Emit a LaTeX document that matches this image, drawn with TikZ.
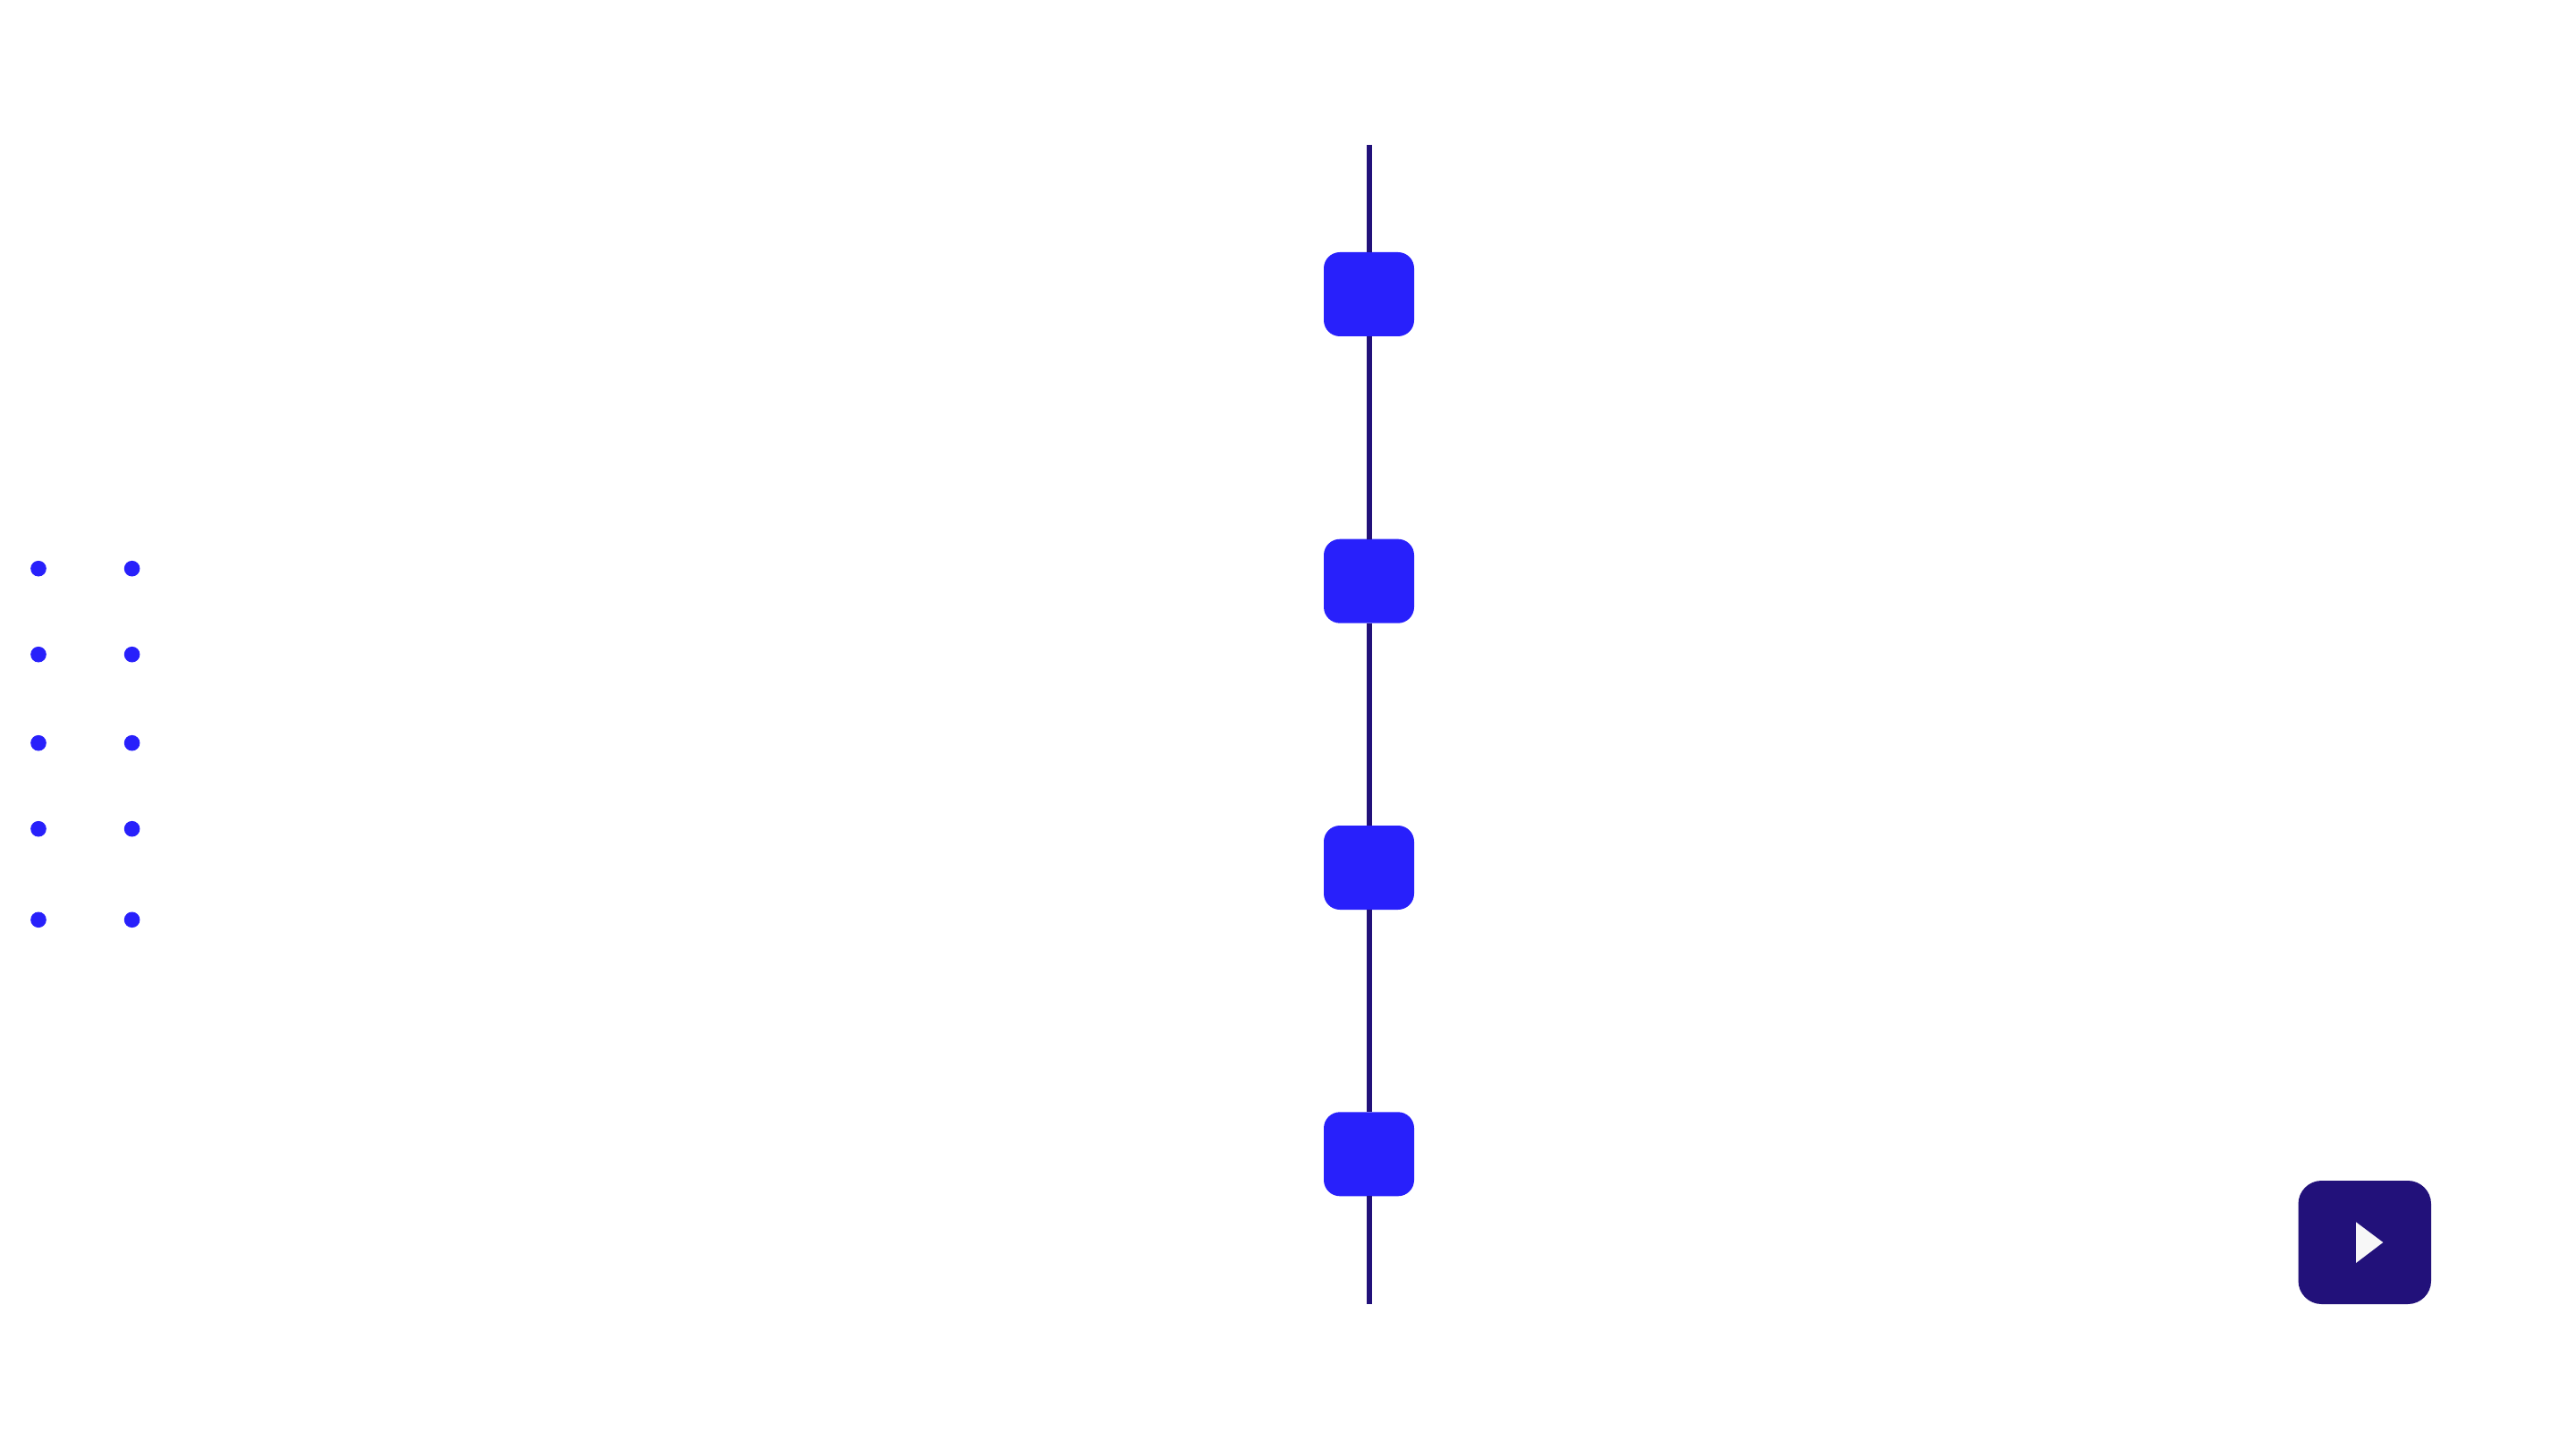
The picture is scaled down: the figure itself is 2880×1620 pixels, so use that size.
\documentclass[tikz,border=0pt]{standalone}
\definecolor{boxblue}{HTML}{2820FB}
\definecolor{navy}{HTML}{22117A}
\definecolor{playwhite}{HTML}{F7F7F7}
\tikzset{
  x=0.5pt,y=-0.5pt,
  stopbox/.style={fill=boxblue,draw=none,rounded corners=9pt,minimum width=50.5pt,minimum height=47pt,inner sep=0pt,outer sep=0pt,shape=rectangle},
  playbox/.style={fill=navy,draw=none,rounded corners=13pt,minimum width=74.25pt,minimum height=69pt,inner sep=0pt,outer sep=0pt,shape=rectangle},
  dot/.style={fill=boxblue,draw=none,shape=circle,minimum size=8.8pt,inner sep=0pt,outer sep=0pt},
  spine/.style={draw=navy,line width=3.1pt,line cap=butt},
  playtri/.style={fill=playwhite,draw=none}
}
\begin{document}
\begin{tikzpicture}
\useasboundingbox (0,0) rectangle (2880,1620);
\fill[white] (0,0) rectangle (2880,1620);
\coordinate (top) at (1531,162);
\coordinate (bot) at (1531,1458);
\node[stopbox] (b1) at (1530.5,329) {};
\node[stopbox] (b2) at (1530.5,649.7) {};
\node[stopbox] (b3) at (1530.5,970) {};
\node[stopbox] (b4) at (1530.5,1290.3) {};
\draw[spine] (top) -- (b1.north -| top);
\draw[spine] (b1.south -| top) -- (b2.north -| top);
\draw[spine] (b2.south -| top) -- (b3.north -| top);
\draw[spine] (b3.south -| top) -- (b4.north -| top);
\draw[spine] (b4.south -| top) -- (bot);
\foreach \n/\y in {1/635.7,2/731.7,3/830.7,4/926.7,5/1028.3}{
  \node[dot] (dl\n) at (43,\y) {};
  \node[dot] (dr\n) at (147.6,\y) {};
}
\node[playbox] (play) at (2643.75,1389) {};
\fill[playtri] (2634,1366.3) -- (2664.3,1389) -- (2634,1412) -- cycle;
\end{tikzpicture}
\end{document}
